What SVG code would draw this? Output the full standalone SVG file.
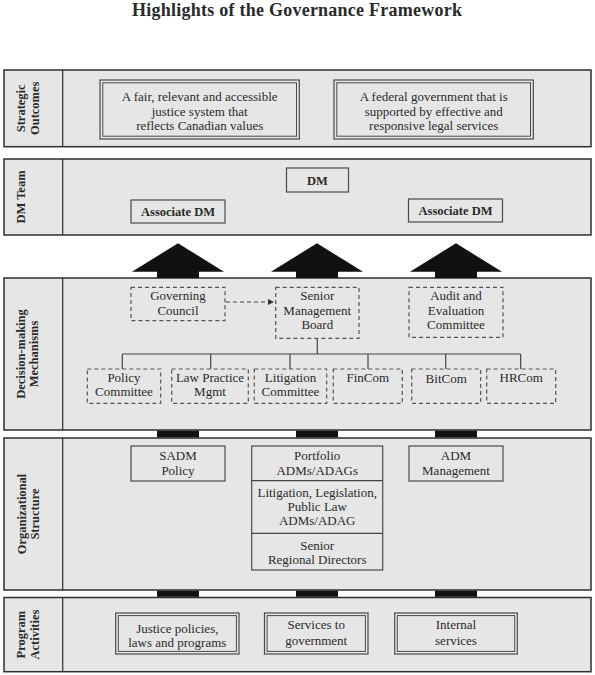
<svg xmlns="http://www.w3.org/2000/svg" width="595" height="675" viewBox="0 0 595 675">
<style>
text{font-family:"Liberation Serif","Times New Roman",serif;fill:#2a2a2a;font-size:13px;text-anchor:middle}
.title{font-size:18px;font-weight:bold}
.lbl{font-size:12.5px;font-weight:bold}
.b{font-weight:bold;font-size:12.5px}
.band{fill:#e6e6e6;stroke:#2e2e2e;stroke-width:1.5}
.div{stroke:#2e2e2e;stroke-width:1.2}
.box{fill:#e6e6e6;stroke:#4a4a4a;stroke-width:1.2}
.dbl{fill:none;stroke:#4a4a4a;stroke-width:1}
.dash{fill:#e6e6e6;stroke:#555;stroke-width:1.2;stroke-dasharray:4 3}
.line{fill:none;stroke:#444;stroke-width:1.2}
.blk{fill:#111}
</style>
<defs>
<marker id="ah" viewBox="0 0 10 10" refX="10" refY="5" markerWidth="6" markerHeight="6" orient="auto" markerUnits="userSpaceOnUse">
<path d="M0,0 L10,5 L0,10 z" fill="#333"/>
</marker>
</defs>

<text class="title" x="297" y="16" textLength="330" lengthAdjust="spacing">Highlights of the Governance Framework</text>

<g id="bands">
<g id="band-so">
<rect class="band" x="4" y="70" width="587" height="76.7"/>
<line class="div" x1="62.7" y1="70" x2="62.7" y2="146.7"/>
<text class="lbl" transform="translate(25,108.3) rotate(-90)">Strategic</text>
<text class="lbl" transform="translate(38.5,108.3) rotate(-90)">Outcomes</text>
</g>
<g id="band-dm">
<rect class="band" x="4" y="159" width="587" height="76"/>
<line class="div" x1="62.7" y1="159" x2="62.7" y2="235"/>
<text class="lbl" transform="translate(25,197) rotate(-90)">DM Team</text>
</g>
<g id="band-dmm">
<rect class="band" x="4" y="278" width="587" height="152"/>
<line class="div" x1="62.7" y1="278" x2="62.7" y2="430"/>
<text class="lbl" transform="translate(25,354) rotate(-90)">Decision-making</text>
<text class="lbl" transform="translate(38,354) rotate(-90)">Mechanisms</text>
</g>
<g id="band-os">
<rect class="band" x="4" y="438" width="587" height="152"/>
<line class="div" x1="62.7" y1="438" x2="62.7" y2="590"/>
<text class="lbl" transform="translate(25.5,514) rotate(-90)">Organizational</text>
<text class="lbl" transform="translate(38.5,514) rotate(-90)">Structure</text>
</g>
<g id="band-pa">
<rect class="band" x="4" y="597.5" width="587" height="74.2"/>
<line class="div" x1="62.7" y1="597.5" x2="62.7" y2="671.7"/>
<text class="lbl" transform="translate(25,634.6) rotate(-90)">Program</text>
<text class="lbl" transform="translate(38.5,634.6) rotate(-90)">Activities</text>
</g>
</g>

<g id="connectors">
<polygon class="blk" points="178,243.3 224,271.7 199,271.7 199,278 157,278 157,271.7 132,271.7"/>
<polygon class="blk" points="317,243.3 363,271.7 338,271.7 338,278 296,278 296,271.7 271,271.7"/>
<polygon class="blk" points="456,243.3 502,271.7 477,271.7 477,278 435,278 435,271.7 410,271.7"/>
<rect class="blk" x="157" y="430.7" width="42" height="6.6"/>
<rect class="blk" x="296" y="430.7" width="42" height="6.6"/>
<rect class="blk" x="435" y="430.7" width="42" height="6.6"/>
<rect class="blk" x="157" y="590.7" width="42" height="6.1"/>
<rect class="blk" x="296" y="590.7" width="42" height="6.1"/>
<rect class="blk" x="435" y="590.7" width="42" height="6.1"/>
<line class="line" x1="226" y1="302" x2="274" y2="302" stroke-dasharray="4 3" marker-end="url(#ah)"/>
<path class="line" d="M317.3,338.3 V354 M122.3,354 H520.7 M122.3,354 V369 M210.7,354 V369 M290,354 V369 M368,354 V369 M445.7,354 V369 M520.7,354 V369"/>
</g>

<g id="so-justice">
<rect class="box" x="100" y="80" width="199.3" height="59"/>
<rect class="dbl" x="102.8" y="82.8" width="193.7" height="53.4"/>
<text x="199.7" y="101">A fair, relevant and accessible</text>
<text x="199.7" y="115.5">justice system that</text>
<text x="199.7" y="130">reflects Canadian values</text>
</g>
<g id="so-federal">
<rect class="box" x="334" y="80" width="199.3" height="59"/>
<rect class="dbl" x="336.8" y="82.8" width="193.7" height="53.4"/>
<text x="433.7" y="101">A federal government that is</text>
<text x="433.7" y="115.5">supported by effective and</text>
<text x="433.7" y="130">responsive legal services</text>
</g>

<g id="dm">
<rect class="box" x="286.5" y="168" width="62" height="24"/>
<text class="b" x="317.5" y="184.5">DM</text>
</g>
<g id="assoc-dm-1">
<rect class="box" x="131" y="200" width="94" height="23"/>
<text class="b" x="178" y="216">Associate DM</text>
</g>
<g id="assoc-dm-2">
<rect class="box" x="408.5" y="199" width="94" height="23"/>
<text class="b" x="455.5" y="215">Associate DM</text>
</g>

<g id="governing-council">
<rect class="dash" x="131" y="287.3" width="94" height="33.4"/>
<text x="178" y="300">Governing</text>
<text x="178" y="314.5">Council</text>
</g>
<g id="smb">
<rect class="dash" x="275.7" y="287.3" width="83.3" height="51"/>
<text x="317.3" y="300">Senior</text>
<text x="317.3" y="314.5">Management</text>
<text x="317.3" y="328.5">Board</text>
</g>
<g id="audit">
<rect class="dash" x="409" y="287.3" width="94" height="50"/>
<text x="456" y="300">Audit and</text>
<text x="456" y="314.5">Evaluation</text>
<text x="456" y="328.5">Committee</text>
</g>

<g id="policy-committee">
<rect class="dash" x="87.3" y="369" width="73.4" height="34.3"/>
<text x="124" y="382">Policy</text>
<text x="124" y="396">Committee</text>
</g>
<g id="law-practice">
<rect class="dash" x="171.7" y="369" width="76.6" height="34.3"/>
<text x="210" y="382">Law Practice</text>
<text x="210" y="396">Mgmt</text>
</g>
<g id="litigation-committee">
<rect class="dash" x="254.3" y="369" width="72.4" height="34.3"/>
<text x="290.5" y="382">Litigation</text>
<text x="290.5" y="396">Committee</text>
</g>
<g id="fincom">
<rect class="dash" x="333.3" y="369" width="69" height="34.3"/>
<text x="367.8" y="382">FinCom</text>
</g>
<g id="bitcom">
<rect class="dash" x="411.7" y="369" width="69" height="34.3"/>
<text x="446.2" y="383">BitCom</text>
</g>
<g id="hrcom">
<rect class="dash" x="486.7" y="369" width="69" height="34.3"/>
<text x="521.2" y="382">HRCom</text>
</g>

<g id="sadm-policy">
<rect class="box" x="131" y="446" width="94" height="35"/>
<text x="178" y="460">SADM</text>
<text x="178" y="474.5">Policy</text>
</g>
<g id="portfolio-stack">
<rect class="box" x="251.7" y="446" width="131" height="124"/>
<line class="line" x1="251.7" y1="480.7" x2="382.7" y2="480.7"/>
<line class="line" x1="251.7" y1="533.3" x2="382.7" y2="533.3"/>
<text x="317.2" y="460">Portfolio</text>
<text x="317.2" y="474.5">ADMs/ADAGs</text>
<text x="317.2" y="497">Litigation, Legislation,</text>
<text x="317.2" y="511">Public Law</text>
<text x="317.2" y="525">ADMs/ADAG</text>
<text x="317.2" y="549.5">Senior</text>
<text x="317.2" y="563.5">Regional Directors</text>
</g>
<g id="adm-management">
<rect class="box" x="409" y="446" width="94" height="35"/>
<text x="456" y="460">ADM</text>
<text x="456" y="474.5">Management</text>
</g>

<g id="pa-justice">
<rect class="box" x="115.7" y="613" width="123.3" height="41"/>
<rect class="dbl" x="118.3" y="615.6" width="118.1" height="35.8"/>
<text x="177.3" y="632.5">Justice policies,</text>
<text x="177.3" y="646.5">laws and programs</text>
</g>
<g id="pa-services">
<rect class="box" x="264.5" y="613" width="103.5" height="41"/>
<rect class="dbl" x="267.1" y="615.6" width="98.3" height="35.8"/>
<text x="316.2" y="629">Services to</text>
<text x="316.2" y="644.5">government</text>
</g>
<g id="pa-internal">
<rect class="box" x="394.7" y="613" width="122.6" height="41"/>
<rect class="dbl" x="397.3" y="615.6" width="117.4" height="35.8"/>
<text x="456" y="629">Internal</text>
<text x="456" y="644.5">services</text>
</g>
</svg>
